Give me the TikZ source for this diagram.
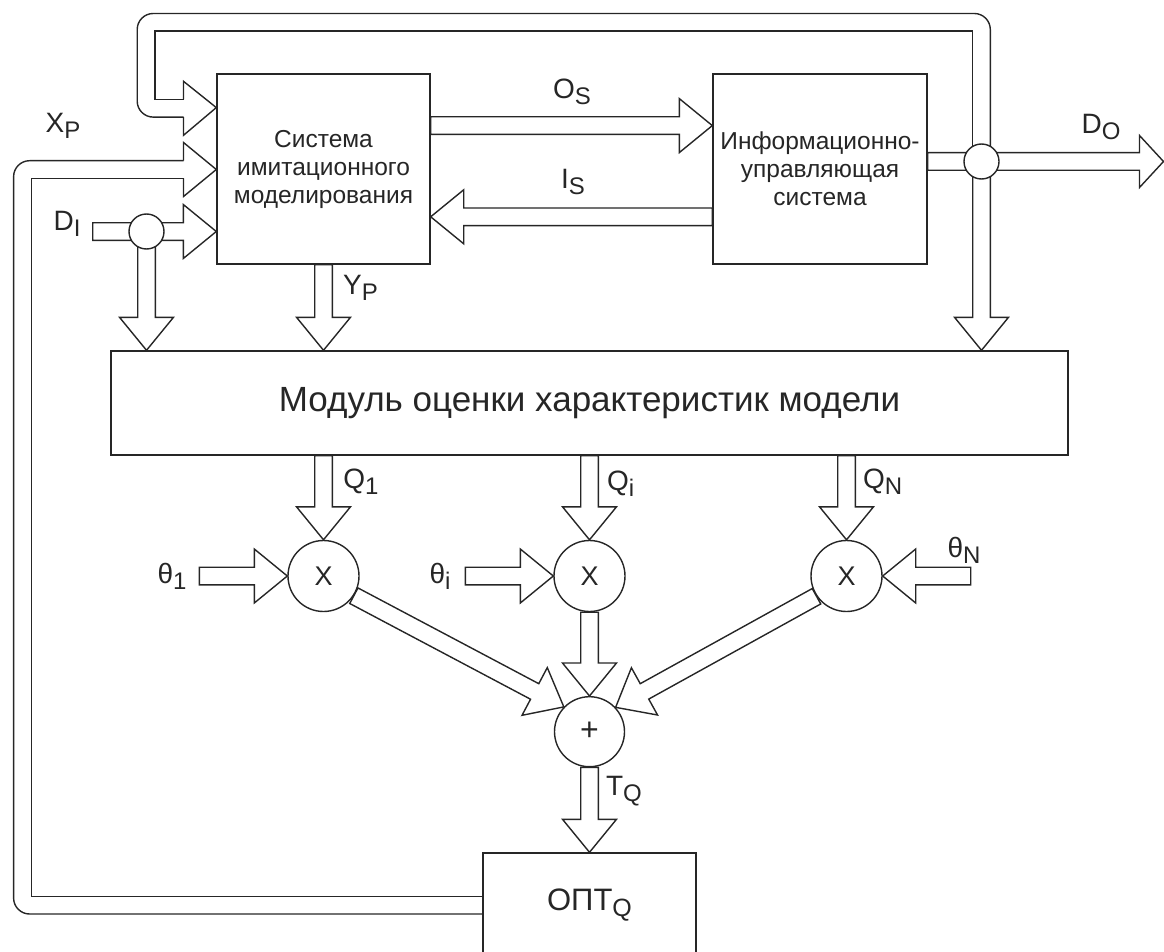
\documentclass[tikz,border=0pt]{standalone}
\usepackage{fontspec}
\setmainfont{Liberation Sans}
\usetikzlibrary{calc}

% subscript used in the signal labels
\newcommand{\lsub}[2][24]{\raisebox{-6pt}{\fontsize{#1}{#1}\selectfont #2}}

% outlined block arrow from #2 to #3 (shaft, head, closed tail)
\newdimen\faDx \newdimen\faDy
\makeatletter
\newcommand{\fatarrow}[3][]{%
  \coordinate (fa-s) at (#2);%
  \coordinate (fa-e) at (#3);%
  \pgfpointdiff{\pgfpointanchor{fa-s}{center}}{\pgfpointanchor{fa-e}{center}}%
  \faDx=\pgf@x \faDy=\pgf@y
  \pgfmathveclen{\faDx}{\faDy}\let\faLen\pgfmathresult
  \pgfmathanglebetweenpoints{\pgfpointanchor{fa-s}{center}}{\pgfpointanchor{fa-e}{center}}\let\faAng\pgfmathresult
  \begin{scope}[shift={(fa-s)}, rotate=\faAng, #1]
    \pgfmathsetmacro\faB{\faLen-\faH}%
    \draw[pipe] (0pt,\faW pt) -- (\faB pt,\faW pt) -- (\faB pt,\faHW pt) -- (\faLen pt,0pt)
      -- (\faB pt,-\faHW pt) -- (\faB pt,-\faW pt) -- (0pt,-\faW pt) -- cycle;
  \end{scope}}
\makeatother

\tikzset{
  fat head/.store in=\faH, fat hw/.store in=\faHW, fat w/.store in=\faW,
  fat head=33, fat hw=27, fat w=8.8,
  pipe/.style={draw=black!85, line width=1.4pt, fill=white, line join=miter},
  box/.style={draw=black!85, line width=1.4pt, rectangle, inner sep=0pt, align=center,
    fill=white, text=black!85},
  op/.style={draw=black!85, line width=1.4pt, circle, minimum size=71pt, inner sep=0pt,
    fill=white, text=black!85, font=\fontsize{27}{27}\selectfont},
  jn/.style={draw=black!85, line width=1.4pt, circle, minimum size=35pt, inner sep=0pt, fill=white},
  lbl/.style={inner sep=0pt, text=black!85, font=\fontsize{28}{28}\selectfont},
}

\begin{document}
\begin{tikzpicture}[x=1pt, y=-1pt]
\useasboundingbox (0,0) rectangle (1164,952);

% blocks
\node[box, minimum width=213pt, minimum height=190pt, font=\fontsize{24.5}{28}\selectfont]
  (sim) at (323.5,169) {Система\\имитационного\\моделирования};
\node[box, minimum width=214pt, minimum height=190pt, font=\fontsize{24.5}{28}\selectfont]
  (ius) at (820,169) {Информационно-\\управляющая\\система};
\node[box, minimum width=957pt, minimum height=104pt, font=\fontsize{35}{40}\selectfont]
  (mod) at (589.5,403) {Модуль оценки характеристик модели};
\node[box, minimum width=213pt, minimum height=104pt, font=\fontsize{31}{36}\selectfont]
  (opt) at (589.5,905) {ОПТ\lsub[25]{Q}};

% multipliers and adder
\node[op] (m1) at (323.5,576) {X};
\node[op] (mi) at (589.5,576) {X};
\node[op] (mN) at (846.5,576) {X};
\node[op, minimum size=70pt, font=\fontsize{32}{32}\selectfont] (sum) at (589.5,731.7) {+};

% branch points and free ends
\coordinate (jD) at (146.5,231.5);
\coordinate (jO) at (981.5,161.5);
\coordinate (dIn) at (92.7,231.5);
\coordinate (dOut) at (1163.5,161.5);
\coordinate (t1) at (199.3,576);
\coordinate (ti) at (465.3,576);
\coordinate (tN) at (970.7,576);

% exchange between the two systems
\fatarrow{$(sim.north east)+(0,52.3)$}{$(ius.north west)+(0,52.3)$}
\fatarrow{$(ius.north west)+(0,143.5)$}{$(sim.north east)+(0,143.5)$}

% inputs D_I
\fatarrow{jD}{jD |- mod.north}
\fatarrow{dIn}{sim.west |- jD}

% outputs D_O and their branch down
\fatarrow{jO}{jO |- mod.north}
\fatarrow[fat head=24, fat hw=26]{ius.east |- jO}{dOut}

% feedback of D_O back into the simulator
\draw[pipe, fill=none, rounded corners=16pt]
  ($(jO)+(8.8,0)$) -- (990.3,13.5) -- (137.2,13.5) -- (137.2,117.1) -- (183.5,117.1);
\draw[pipe, fill=none]
  ($(jO)+(-8.8,0)$) -- (972.7,31.1) -- (154.8,31.1) -- (154.8,99.5) -- (183.5,99.5);
\draw[pipe, fill=none]
  (183.5,117.1) -- (183.5,135.3) -- ($(sim.north west)+(0,34.3)$) -- (183.5,81.3) -- (183.5,99.5);

% X_P from the optimiser back into the simulator
\draw[pipe, fill=none, rounded corners=16pt]
  ($(opt.west)+(0,9)$) -- (13.6,914) -- (13.6,160.7) -- (183.5,160.7);
\draw[pipe, fill=none]
  ($(opt.west)+(0,-8.6)$) -- (31.2,896.4) -- (31.2,178.3) -- (183.5,178.3);
\draw[pipe, fill=none]
  (183.5,160.7) -- (183.5,142.5) -- ($(sim.west)+(0,0.5)$) -- (183.5,196.5) -- (183.5,178.3);

% Y_P
\fatarrow{sim.south}{sim.south |- mod.north}

% characteristics Q and weights
\fatarrow{m1 |- mod.south}{m1.north}
\fatarrow{mi |- mod.south}{mi.north}
\fatarrow{mN |- mod.south}{mN.north}
\fatarrow{t1}{m1.west}
\fatarrow{ti}{mi.west}
\fatarrow{tN}{mN.east}

% weighted sum
\fatarrow{m1.-33.5}{sum.136}
\fatarrow{mi.south}{sum.north}
\fatarrow{mN.214}{sum.43}
\fatarrow{sum.south}{opt.north}

% branch circles on top of the pipes
\node[jn] (jDc) at (jD) {};
\node[jn] (jOc) at (jO) {};

% signal labels
\node[lbl] (lXP) at (63,126) {X\lsub{P}};
\node[lbl] (lDI) at (67,224) {D\lsub{I}};
\node[lbl] (lOS) at (572,92) {O\lsub{S}};
\node[lbl] (lIS) at (573,182) {I\lsub{S}};
\node[lbl] (lDO) at (1101,127) {D\lsub{O}};
\node[lbl, anchor=west] (lYP) at (343,288) {Y\lsub{P}};
\node[lbl] (lQ1) at (361,482) {Q\lsub{1}};
\node[lbl, anchor=west] (lQi) at (607,484) {Q\lsub{i}};
\node[lbl, anchor=west] (lQN) at (863,482) {Q\lsub{N}};
\node[lbl] (lt1) at (172,576) {θ\lsub{1}};
\node[lbl] (lti) at (440,576) {θ\lsub{i}};
\node[lbl] (ltN) at (964,550) {θ\lsub{N}};
\node[lbl] (lTQ) at (624,791) {T\lsub{Q}};
\end{tikzpicture}
\end{document}
